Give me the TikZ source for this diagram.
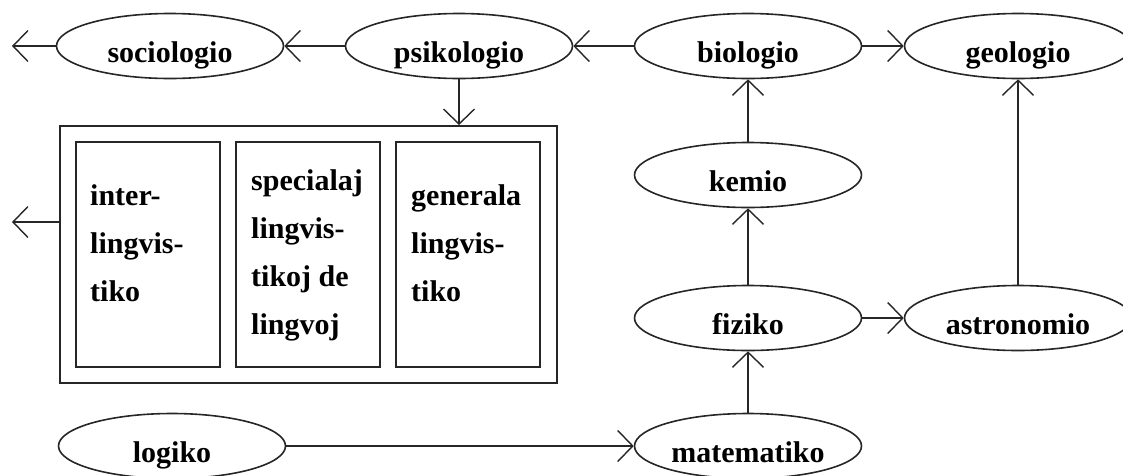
\documentclass[tikz,border=0pt]{standalone}
\usepackage{fontspec}
\setmainfont{Liberation Serif}
\usetikzlibrary{arrows.meta,shapes.geometric}
\tikzset{
  field/.style={ellipse, draw=black!85, line width=1.6pt, minimum width=227pt, minimum height=65pt, inner sep=0pt,
    text height=32pt, text depth=0pt, font=\bfseries\fontsize{30}{36}\selectfont},
  link/.style={draw=black!85, line width=1.5pt, -{Straight Barb[length=15pt,width=31pt,line width=1.4pt]}},
  outerbox/.style={draw=black!85, line width=2pt, minimum width=497pt, minimum height=257pt, inner sep=0pt},
  innerbox/.style={draw=black!85, line width=1.8pt, minimum width=144pt, minimum height=225pt, inner sep=0pt},
  boxtext/.style={align=left, inner sep=0pt, anchor=base west, font=\bfseries\fontsize{30}{48}\selectfont}
}
\begin{document}
\begin{tikzpicture}[x=1pt, y=-1pt]
\useasboundingbox (0,0) rectangle (1123,475);
\node[field] (soc) at (170,46) {sociologio};
\node[field] (psi) at (459,46) {psikologio};
\node[field] (bio) at (748,46) {biologio};
\node[field] (geo) at (1018,46) {geologio};
\node[field] (kem) at (748,175) {kemio};
\node[field] (fiz) at (748,318) {fiziko};
\node[field] (ast) at (1018,318) {astronomio};
\node[field] (mat) at (748,446) {matematiko};
\node[field] (log) at (172,446) {logiko};

\node[outerbox] (lin) at (308.5,254.5) {};
\node[innerbox] (b1) at (148,254.5) {};
\node[innerbox] (b2) at (308,254.5) {};
\node[innerbox] (b3) at (468,254.5) {};
\node[boxtext] (t1) at (90,301) {inter-\\lingvis-\\tiko};
\node[boxtext] (t2) at (251,334) {specialaj\\lingvis-\\tikoj de\\lingvoj};
\node[boxtext] (t3) at (411,301) {generala\\lingvis-\\tiko};

\coordinate (leftA) at (12,46);
\coordinate (leftB) at (12,222);

\draw[link] (soc.west) -- (leftA);
\draw[link] (psi.west) -- (soc.east);
\draw[link] (bio.west) -- (psi.east);
\draw[link] (bio.east) -- (geo.west);
\draw[link] (psi.south) -- (psi.south |- lin.north);
\draw[link] (lin.west |- leftB) -- (leftB);
\draw[link] (kem.north) -- (bio.south);
\draw[link] (fiz.north) -- (kem.south);
\draw[link] (mat.north) -- (fiz.south);
\draw[link] (fiz.east) -- (ast.west);
\draw[link] (ast.north) -- (geo.south);
\draw[link] (log.east) -- (mat.west);
\end{tikzpicture}
\end{document}
